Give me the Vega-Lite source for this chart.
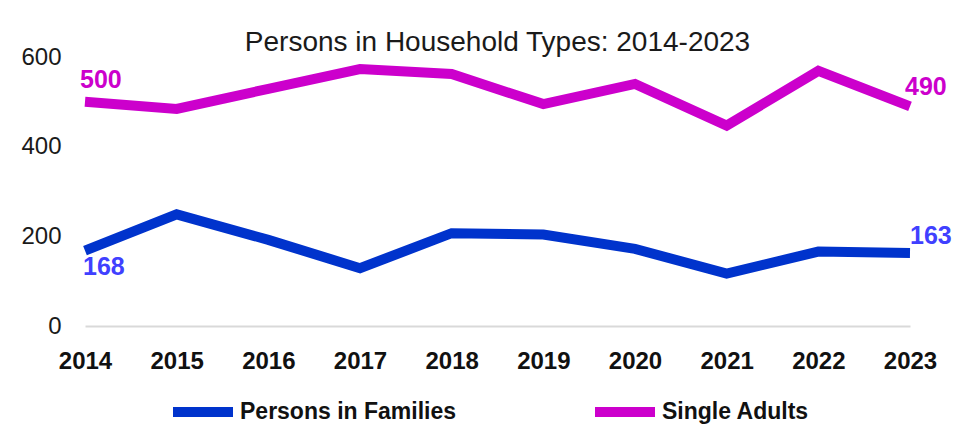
{
  "$schema": "https://vega.github.io/schema/vega-lite/v6.json",
  "autosize": {"type": "none"},
  "width": 825,
  "height": 269,
  "padding": {"left": 85, "top": 57, "right": 51, "bottom": 110},
  "background": "white",
  "title": {
    "text": "Persons in Household Types: 2014-2023",
    "font": "Liberation Sans",
    "fontSize": 28,
    "fontWeight": "normal",
    "color": "#1a1a1a",
    "anchor": "middle",
    "offset": 0,
    "dy": 12
  },
  "config": {
    "view": {"stroke": null},
    "font": "Liberation Sans"
  },
  "data": {
    "values": [
      {"year": "2014", "series": "Persons in Families", "value": 168, "label": "168"},
      {"year": "2015", "series": "Persons in Families", "value": 249},
      {"year": "2016", "series": "Persons in Families", "value": 192},
      {"year": "2017", "series": "Persons in Families", "value": 129},
      {"year": "2018", "series": "Persons in Families", "value": 207},
      {"year": "2019", "series": "Persons in Families", "value": 204},
      {"year": "2020", "series": "Persons in Families", "value": 172},
      {"year": "2021", "series": "Persons in Families", "value": 117},
      {"year": "2022", "series": "Persons in Families", "value": 166},
      {"year": "2023", "series": "Persons in Families", "value": 163, "label": "163"},
      {"year": "2014", "series": "Single Adults", "value": 500, "label": "500"},
      {"year": "2015", "series": "Single Adults", "value": 484},
      {"year": "2016", "series": "Single Adults", "value": 529},
      {"year": "2017", "series": "Single Adults", "value": 573},
      {"year": "2018", "series": "Single Adults", "value": 562},
      {"year": "2019", "series": "Single Adults", "value": 495},
      {"year": "2020", "series": "Single Adults", "value": 540},
      {"year": "2021", "series": "Single Adults", "value": 447},
      {"year": "2022", "series": "Single Adults", "value": 569},
      {"year": "2023", "series": "Single Adults", "value": 490, "label": "490"}
    ]
  },
  "encoding": {
    "x": {
      "field": "year",
      "type": "ordinal",
      "scale": {"type": "point", "padding": 0},
      "axis": {
        "title": null,
        "labelAngle": 0,
        "labelFont": "Liberation Sans",
        "labelFontSize": 24,
        "labelFontWeight": "bold",
        "labelColor": "#111111",
        "labelPadding": 23,
        "ticks": false,
        "domainColor": "#d9d9d9",
        "domainWidth": 2,
        "grid": false
      }
    },
    "y": {
      "field": "value",
      "type": "quantitative",
      "scale": {"domain": [0, 600], "nice": false},
      "axis": {
        "title": null,
        "values": [0, 200, 400, 600],
        "labelFont": "Liberation Sans",
        "labelFontSize": 24,
        "labelColor": "#1a1a1a",
        "labelPadding": 24,
        "ticks": false,
        "domain": false,
        "grid": false
      }
    }
  },
  "layer": [
    {
      "mark": {"type": "line", "strokeWidth": 10, "strokeCap": "butt"},
      "encoding": {
        "color": {
          "field": "series",
          "type": "nominal",
          "scale": {"domain": ["Persons in Families", "Single Adults"], "range": ["#0033cc", "#cc00cc"]},
          "legend": {
            "title": null,
            "orient": "none",
            "legendX": 83,
            "legendY": 320,
            "direction": "horizontal",
            "symbolType": "stroke",
            "symbolStrokeWidth": 10,
            "symbolSize": 3600,
            "labelFont": "Liberation Sans",
            "labelFontSize": 23,
            "labelFontWeight": "bold",
            "labelColor": "#111111",
            "labelOffset": 2,
            "columnPadding": 118,
            "labelLimit": 400
          }
        }
      }
    },
    {
      "transform": [{"filter": "datum.label && datum.year == '2014' && datum.series == 'Single Adults'"}],
      "mark": {"type": "text", "font": "Liberation Sans", "fontSize": 25, "fontWeight": "bold", "color": "#cc00cc", "align": "left", "dx": -5, "dy": -22},
      "encoding": {"text": {"field": "label"}}
    },
    {
      "transform": [{"filter": "datum.label && datum.year == '2023' && datum.series == 'Single Adults'"}],
      "mark": {"type": "text", "font": "Liberation Sans", "fontSize": 25, "fontWeight": "bold", "color": "#cc00cc", "align": "left", "dx": -5, "dy": -19},
      "encoding": {"text": {"field": "label"}}
    },
    {
      "transform": [{"filter": "datum.label && datum.year == '2014' && datum.series == 'Persons in Families'"}],
      "mark": {"type": "text", "font": "Liberation Sans", "fontSize": 25, "fontWeight": "bold", "color": "#4040ff", "align": "left", "dx": -2, "dy": 16},
      "encoding": {"text": {"field": "label"}}
    },
    {
      "transform": [{"filter": "datum.label && datum.year == '2023' && datum.series == 'Persons in Families'"}],
      "mark": {"type": "text", "font": "Liberation Sans", "fontSize": 25, "fontWeight": "bold", "color": "#4040ff", "align": "left", "dx": 0, "dy": -17},
      "encoding": {"text": {"field": "label"}}
    }
  ]
}
